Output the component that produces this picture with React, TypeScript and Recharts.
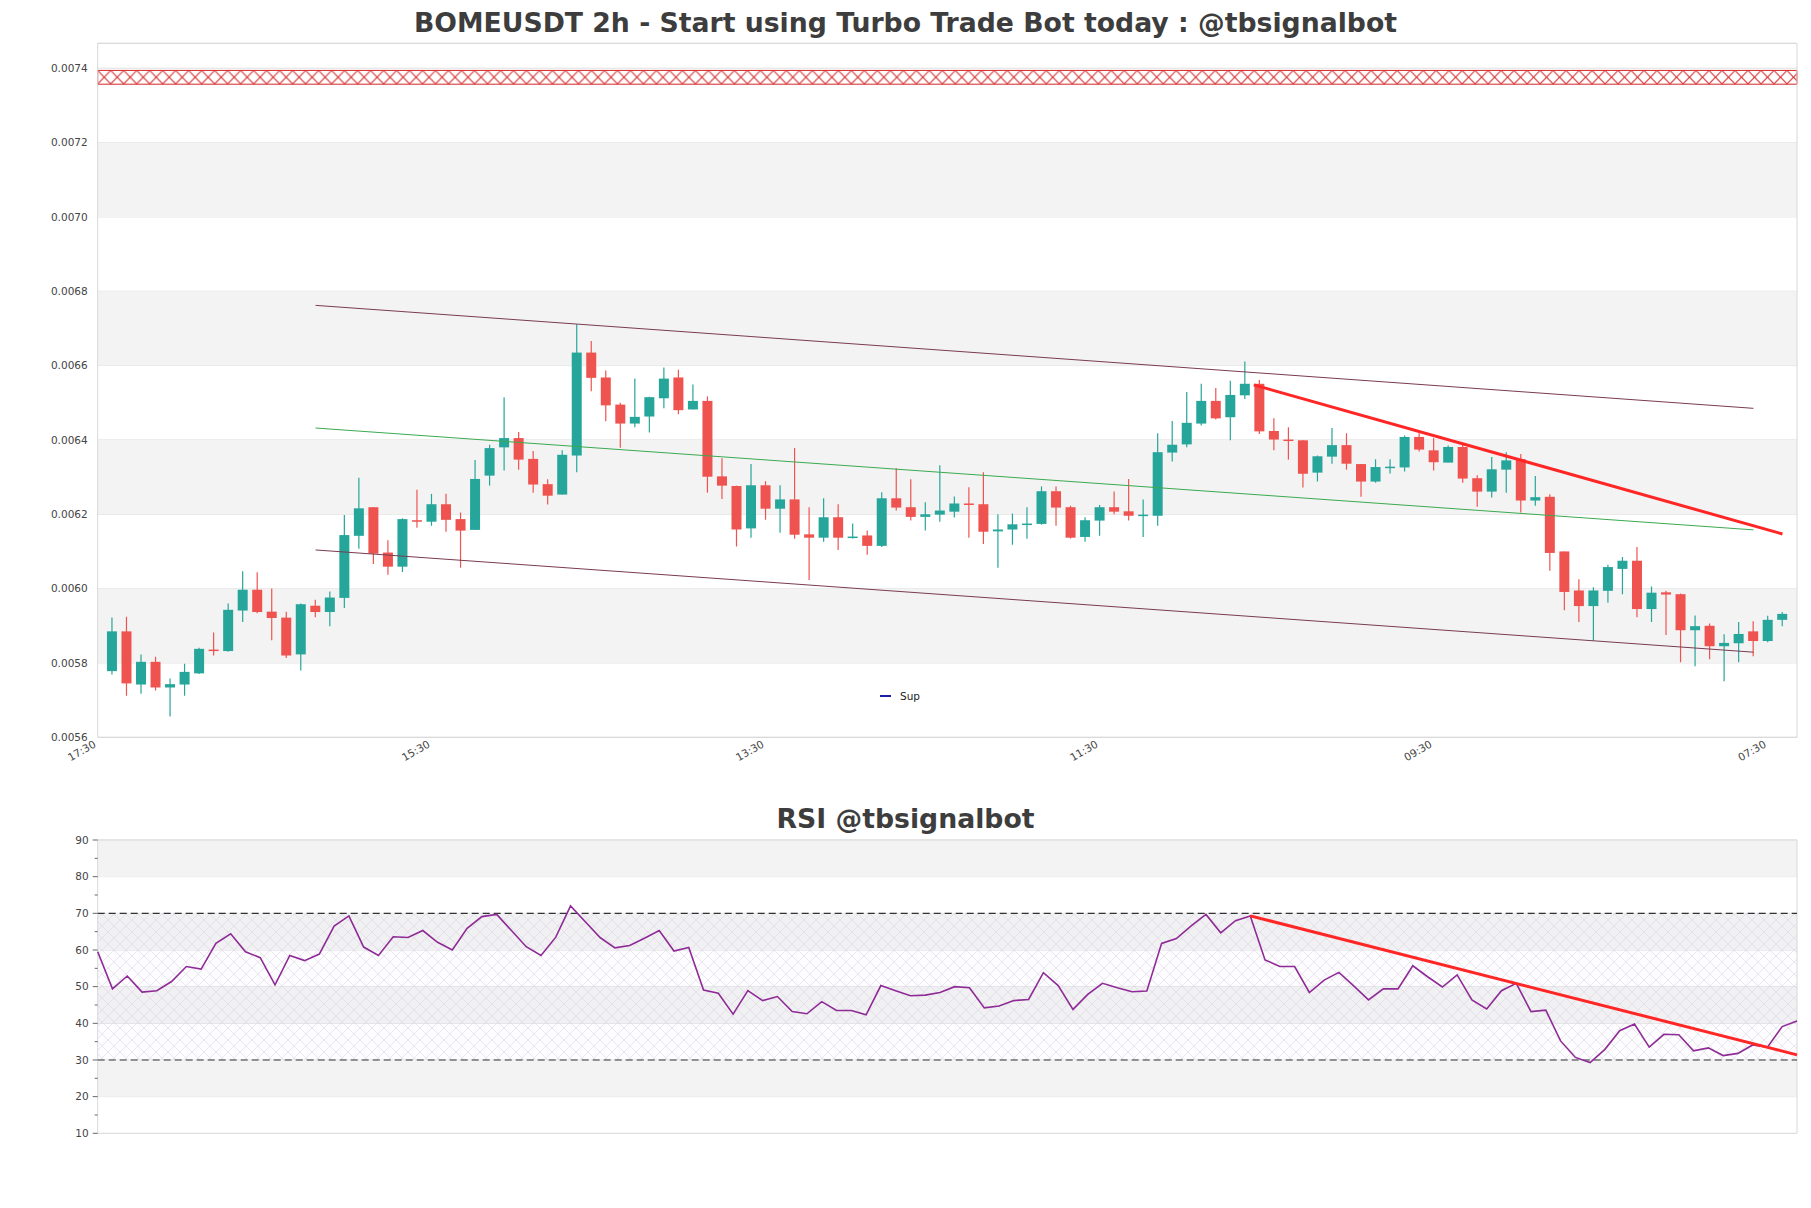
import React from 'react';
import {
  ComposedChart,
  Line,
  Bar,
  XAxis,
  YAxis,
  CartesianGrid,
  ReferenceArea,
  ReferenceLine,
  Legend,
} from 'recharts';

// ---------------- DATA ----------------
const opens = [
  0.005778, 0.005885, 0.005742, 0.005803, 0.005734, 0.005742, 0.005772, 0.005836, 0.005832, 0.005941,
  0.005997, 0.005938, 0.005922, 0.005823, 0.005954, 0.005937, 0.005975, 0.006142, 0.006219, 0.006097,
  0.006059, 0.006184, 0.00618, 0.006227, 0.006187, 0.006158, 0.006304, 0.00638, 0.006405, 0.006349,
  0.006281, 0.006253, 0.006358, 0.006635, 0.006568, 0.006495, 0.006444, 0.006463, 0.006512, 0.006568,
  0.006482, 0.006505, 0.006302, 0.006276, 0.006162, 0.006278, 0.006215, 0.00624, 0.006146, 0.006137,
  0.006192, 0.006137, 0.006143, 0.006115, 0.006243, 0.006219, 0.006193, 0.006199, 0.006207, 0.006229,
  0.006227, 0.006154, 0.006159, 0.006173, 0.006174, 0.006262, 0.006219, 0.006139, 0.006183, 0.006219,
  0.006208, 0.006196, 0.006196, 0.006366, 0.006388, 0.006444, 0.006505, 0.006461, 0.00652, 0.006551,
  0.006424, 0.006401, 0.006399, 0.006312, 0.006355, 0.006386, 0.006335, 0.006288, 0.006326, 0.006326,
  0.006408, 0.006372, 0.006339, 0.006381, 0.006297, 0.006261, 0.00632, 0.006348, 0.006237, 0.006247,
  0.0061, 0.005995, 0.005953, 0.005994, 0.006053, 0.006075, 0.005945, 0.00599, 0.005985, 0.005888,
  0.0059, 0.005845, 0.005853, 0.005885, 0.005859, 0.005916,
];
const highs = [
  0.005922, 0.005924, 0.005823, 0.005817, 0.005758, 0.005798, 0.005841, 0.005882, 0.00596, 0.006047,
  0.006044, 0.006, 0.005938, 0.00596, 0.00597, 0.005992, 0.006198, 0.006298, 0.006219, 0.00613,
  0.006189, 0.006266, 0.006255, 0.006255, 0.006205, 0.006346, 0.006387, 0.006515, 0.006421, 0.00637,
  0.006294, 0.006372, 0.006711, 0.006666, 0.006587, 0.0065, 0.006565, 0.006516, 0.006595, 0.006589,
  0.006549, 0.006517, 0.006351, 0.006277, 0.006335, 0.006289, 0.006278, 0.006378, 0.006219, 0.006243,
  0.006227, 0.006175, 0.006156, 0.006259, 0.006324, 0.006294, 0.006232, 0.006332, 0.006248, 0.006273,
  0.006313, 0.0062, 0.006202, 0.006219, 0.006275, 0.006275, 0.006223, 0.006192, 0.006225, 0.006261,
  0.006295, 0.00624, 0.006418, 0.006451, 0.006529, 0.006551, 0.00654, 0.006559, 0.006611, 0.006561,
  0.006458, 0.006434, 0.006399, 0.006358, 0.006432, 0.006418, 0.006335, 0.006348, 0.006348, 0.006412,
  0.006418, 0.006405, 0.006385, 0.00639, 0.006305, 0.006354, 0.006367, 0.006362, 0.006303, 0.006254,
  0.0061, 0.006025, 0.006004, 0.006064, 0.006085, 0.006112, 0.006006, 0.005994, 0.005987, 0.005928,
  0.005906, 0.005877, 0.00591, 0.005912, 0.005927, 0.005937,
];
const lows = [
  0.005769, 0.005712, 0.005717, 0.005726, 0.005656, 0.005712, 0.00577, 0.00582, 0.00583, 0.00591,
  0.005934, 0.005861, 0.005813, 0.00578, 0.005923, 0.005899, 0.005948, 0.006107, 0.006066, 0.006037,
  0.006045, 0.006164, 0.006169, 0.006153, 0.006056, 0.006158, 0.006277, 0.006318, 0.00632, 0.006258,
  0.006226, 0.006253, 0.006313, 0.006531, 0.00645, 0.006379, 0.006434, 0.00642, 0.006485, 0.006469,
  0.006482, 0.006258, 0.006241, 0.006113, 0.006137, 0.006185, 0.00615, 0.006134, 0.006023, 0.006126,
  0.006104, 0.006135, 0.006091, 0.006112, 0.00621, 0.006183, 0.006156, 0.00618, 0.006191, 0.006137,
  0.00612, 0.006056, 0.006118, 0.006134, 0.006172, 0.006169, 0.006135, 0.006126, 0.006142, 0.0062,
  0.006183, 0.006139, 0.006169, 0.006342, 0.00638, 0.006439, 0.006455, 0.006399, 0.00651, 0.006416,
  0.006372, 0.006347, 0.006272, 0.006288, 0.006336, 0.00632, 0.006247, 0.006285, 0.00631, 0.006315,
  0.006369, 0.006318, 0.006339, 0.006285, 0.00622, 0.006245, 0.006258, 0.006205, 0.006223, 0.006048,
  0.005942, 0.00591, 0.00586, 0.005962, 0.005985, 0.005923, 0.00591, 0.005875, 0.005802, 0.005791,
  0.00581, 0.005751, 0.005802, 0.005818, 0.005856, 0.005899,
];
const closes = [
  0.005885, 0.005745, 0.005803, 0.005734, 0.005743, 0.005776, 0.005838, 0.005832, 0.005943, 0.005997,
  0.005937, 0.005921, 0.00582, 0.005958, 0.005937, 0.005976, 0.006144, 0.006216, 0.006094, 0.006059,
  0.006187, 0.00618, 0.006227, 0.006185, 0.006156, 0.006295, 0.006378, 0.006405, 0.006347, 0.00628,
  0.00625, 0.00636, 0.006635, 0.006567, 0.006493, 0.006444, 0.006462, 0.006515, 0.006565, 0.00648,
  0.006505, 0.006301, 0.006277, 0.006159, 0.006278, 0.006215, 0.00624, 0.006145, 0.006137, 0.006192,
  0.006137, 0.00614, 0.006115, 0.006243, 0.006218, 0.006193, 0.0062, 0.00621, 0.006229, 0.006226,
  0.006153, 0.006159, 0.006173, 0.006175, 0.006262, 0.006218, 0.006137, 0.006184, 0.006219, 0.006207,
  0.006196, 0.006199, 0.006367, 0.006387, 0.006446, 0.006505, 0.006458, 0.006521, 0.006551, 0.006423,
  0.006401, 0.006399, 0.006309, 0.006356, 0.006386, 0.006336, 0.006288, 0.006327, 0.006328, 0.006408,
  0.006374, 0.00634, 0.006381, 0.006296, 0.006261, 0.006321, 0.006345, 0.006237, 0.006246, 0.006096,
  0.005991, 0.005953, 0.005995, 0.006058, 0.006075, 0.005945, 0.005989, 0.005984, 0.005888, 0.005899,
  0.005845, 0.005854, 0.005878, 0.005859, 0.005916, 0.005932,
];
const rsiValues = [
  59.5, 49.4, 52.9, 48.5, 48.9, 51.4, 55.5, 54.8, 61.8, 64.4,
  59.5, 57.9, 50.5, 58.5, 57.1, 58.9, 66.5, 69.3, 60.8, 58.5,
  63.6, 63.4, 65.3, 62.1, 60.0, 65.9, 69.1, 69.7, 65.3, 60.9,
  58.5, 63.5, 72.0, 67.7, 63.4, 60.6, 61.2, 63.2, 65.3, 59.7,
  60.7, 49.1, 48.2, 42.5, 48.9, 46.2, 47.3, 43.2, 42.6, 45.9,
  43.5, 43.5, 42.3, 50.3, 48.9, 47.5, 47.7, 48.4, 50.0, 49.7,
  44.2, 44.7, 46.2, 46.5, 53.8, 50.3, 43.8, 47.9, 50.9, 49.7,
  48.6, 48.8, 61.8, 63.1, 66.6, 69.7, 64.7, 68.0, 69.3, 57.3,
  55.5, 55.5, 48.4, 51.8, 53.9, 50.2, 46.4, 49.4, 49.4, 55.7,
  52.7, 49.9, 53.2, 46.4, 43.9, 48.9, 50.9, 43.2, 43.6, 35.2,
  30.7, 29.3, 32.9, 38.0, 39.8, 33.5, 37.0, 36.9, 32.5, 33.3,
  31.2, 31.8, 34.1, 33.5, 39.1, 40.6,
];

const xTickIndex = [-1, 22, 45, 68, 91, 114];
const xTickLabels = ['17:30', '15:30', '13:30', '11:30', '09:30', '07:30'];
const priceTicks = [0.0056, 0.0058, 0.006, 0.0062, 0.0064, 0.0066, 0.0068, 0.007, 0.0072, 0.0074];
const priceDomain = [0.0056, 0.007467];
const xDomain = [-1, 116];
const priceBands = [[0.0058, 0.006], [0.0062, 0.0064], [0.0066, 0.0068], [0.007, 0.0072]];
const resistanceZone = [0.007357, 0.007394];
const upperChannel = [[14, 0.006762], [113, 0.006485]];
const middleChannel = [[14, 0.006432], [113, 0.006158]];
const lowerChannel = [[14, 0.006104], [113, 0.005829]];
const priceTrend = [[78.6, 0.006548], [115, 0.006147]];

const rsiTicks = [10, 15, 20, 25, 30, 35, 40, 45, 50, 55, 60, 65, 70, 75, 80, 85, 90];
const rsiGridValues = [20, 30, 40, 50, 60, 70, 80, 90];
const rsiDomain = [10, 90];
const rsiBands = [[20, 30], [40, 50], [60, 70], [80, 90]];
const rsiZone = [30, 70];
const rsiTrend = [[78, 69.3], [115, 31.4]];
const legendItems = [{ name: 'Sup', color: '#1c1ca8' }];

// ---------------- STYLE ----------------
const FONT = '"DejaVu Sans", "Liberation Sans", sans-serif';
const GREEN = '#26a69a';
const RED = '#ef5350';
const BAND = '#f3f3f3';
const GRID = '#e0e0e0';
const BORDER = '#d8d8d8';
const TEXT = '#444';
const HATCH_W = 13;
const HATCH_H = 13.6;

const candles = opens.map((o, i) => ({
  i,
  open: o,
  high: highs[i],
  low: lows[i],
  close: closes[i],
  range: [lows[i], highs[i]],
}));
const rsiData = rsiValues.map((v, i) => ({ i, rsi: v }));

const Candle = (props: any) => {
  const { x, y, width, height, payload } = props;
  if (!payload || x == null || y == null) return null;
  const { open, close, high, low } = payload;
  const top = Math.min(y, y + height);
  const h = Math.abs(height);
  const span = high - low;
  const k = span > 0 ? h / span : 0;
  const bTop = top + (high - Math.max(open, close)) * k;
  const bBot = top + (high - Math.min(open, close)) * k;
  const cx = x + width / 2;
  const color = close >= open ? GREEN : RED;
  return (
    <g>
      <line x1={cx} x2={cx} y1={top} y2={top + h} stroke={color} strokeWidth={1.2} />
      <rect x={x} y={bTop} width={width} height={Math.max(1.5, bBot - bTop)} fill={color} />
    </g>
  );
};

const XTick = (props: any) => {
  const { x, y, payload } = props;
  const idx = xTickIndex.indexOf(payload.value);
  const label = idx >= 0 ? xTickLabels[idx] : '';
  const ax = x - 1;
  const ay = y + 1;
  return (
    <text
      x={ax}
      y={ay}
      transform={`rotate(-30 ${ax} ${ay})`}
      textAnchor="end"
      fontSize={10.5}
      fontFamily={FONT}
      fill={TEXT}
    >
      {label}
    </text>
  );
};

const PriceTick = (props: any) => {
  const { x, y, payload } = props;
  return (
    <text x={x} y={y} dy="0.35em" textAnchor="end" fontSize={10.5} fontFamily={FONT} fill={TEXT}>
      {Number(payload.value).toFixed(4)}
    </text>
  );
};

const RsiTick = (props: any) => {
  const { x, y, payload } = props;
  const v = payload.value;
  const major = v % 10 === 0;
  const axisX = x + 9;
  return (
    <g>
      <line x1={axisX - (major ? 5 : 3)} x2={axisX} y1={y} y2={y} stroke="#666" strokeWidth={1} />
      {major && (
        <text x={x} y={y} dy="0.35em" textAnchor="end" fontSize={10.5} fontFamily={FONT} fill={TEXT}>
          {v}
        </text>
      )}
    </g>
  );
};

const SupLegend = () => (
  <div style={{ display: 'flex', alignItems: 'center', fontFamily: FONT, fontSize: 10.5, color: '#222' }}>
    {legendItems.map((it) => (
      <span key={it.name} style={{ display: 'flex', alignItems: 'center' }}>
        <span style={{ display: 'inline-block', width: 11, height: 2.5, background: it.color, marginRight: 9 }} />
        {it.name}
      </span>
    ))}
  </div>
);

const titleStyle: React.CSSProperties = {
  position: 'absolute',
  left: 0,
  width: 1811,
  textAlign: 'center',
  fontFamily: FONT,
  fontWeight: 'bold',
  fontSize: 26.7,
  lineHeight: '31px',
  color: '#3d3d3d',
  whiteSpace: 'nowrap',
};

export default function App() {
  return (
    <div style={{ position: 'absolute', left: 0, top: 0, width: 1811, height: 1208, background: '#fff', fontFamily: FONT }}>
      <svg width={0} height={0} style={{ position: 'absolute' }}>
        <defs>
          <pattern
            id="redHatch"
            patternUnits="objectBoundingBox"
            patternContentUnits="userSpaceOnUse"
            x="0"
            y="0"
            width={HATCH_W / 1700}
            height="1"
          >
            <path
              d={`M0 0 L${HATCH_W} ${HATCH_H} M${HATCH_W} 0 L0 ${HATCH_H}`}
              stroke="#d62728"
              strokeWidth={1}
              fill="none"
            />
          </pattern>
          <pattern id="rsiHatch" patternUnits="userSpaceOnUse" width={12} height={12}>
            <path d="M0 0 L12 12 M12 0 L0 12" stroke="#d6d0de" strokeWidth={0.5} fill="none" />
          </pattern>
        </defs>
      </svg>

      <div style={{ ...titleStyle, top: 7 }}>BOMEUSDT 2h - Start using Turbo Trade Bot today : @tbsignalbot</div>

      <div style={{ position: 'absolute', left: 0, top: 0 }}>
        <ComposedChart
          width={1811}
          height={800}
          data={candles}
          margin={{ top: 43.3, right: 14, bottom: 22.7, left: 37.7 }}
        >
          {priceBands.map((b, k) => (
            <ReferenceArea key={`pb${k}`} y1={b[0]} y2={b[1]} x1={xDomain[0]} x2={xDomain[1]} fill={BAND} fillOpacity={1} stroke="none" ifOverflow="hidden" />
          ))}
          <CartesianGrid vertical={false} stroke={GRID} />
          <ReferenceArea
            y1={resistanceZone[0]}
            y2={resistanceZone[1]}
            x1={xDomain[0]}
            x2={xDomain[1]}
            fill="url(#redHatch)"
            fillOpacity={1}
            stroke="#d62728"
            strokeWidth={1}
          />
          <ReferenceArea
            y1={priceDomain[0]}
            y2={priceDomain[1]}
            x1={xDomain[0]}
            x2={xDomain[1]}
            fill="none"
            stroke={BORDER}
            strokeWidth={1}
          />
          <XAxis
            dataKey="i"
            type="number"
            domain={xDomain}
            ticks={xTickIndex}
            interval={0}
            tick={<XTick />}
            tickLine={false}
            axisLine={false}
            tickSize={4}
            tickMargin={4}
            height={40}
            allowDataOverflow
          />
          <YAxis
            type="number"
            domain={priceDomain}
            ticks={priceTicks}
            interval={0}
            tick={<PriceTick />}
            tickLine={false}
            axisLine={false}
            tickSize={6}
            tickMargin={4}
            width={60}
            allowDataOverflow
          />
          <ReferenceLine segment={[{ x: upperChannel[0][0], y: upperChannel[0][1] }, { x: upperChannel[1][0], y: upperChannel[1][1] }]} stroke="#7a3b52" strokeWidth={1} />
          <ReferenceLine segment={[{ x: middleChannel[0][0], y: middleChannel[0][1] }, { x: middleChannel[1][0], y: middleChannel[1][1] }]} stroke="#3aaa4f" strokeWidth={1} />
          <ReferenceLine segment={[{ x: lowerChannel[0][0], y: lowerChannel[0][1] }, { x: lowerChannel[1][0], y: lowerChannel[1][1] }]} stroke="#7a3b52" strokeWidth={1} />
          <Bar dataKey="range" barSize={10} shape={<Candle />} isAnimationActive={false} />
          <ReferenceLine segment={[{ x: priceTrend[0][0], y: priceTrend[0][1] }, { x: priceTrend[1][0], y: priceTrend[1][1] }]} stroke="#ff2626" strokeWidth={3} />
          <Legend
            content={<SupLegend />}
            layout="horizontal"
            verticalAlign="middle"
            align="center"
            wrapperStyle={{ left: 880, top: 690, width: 80, height: 16 }}
          />
        </ComposedChart>
      </div>

      <div style={{ ...titleStyle, top: 803 }}>RSI @tbsignalbot</div>

      <div style={{ position: 'absolute', left: 0, top: 800 }}>
        <ComposedChart
          width={1811}
          height={360}
          data={rsiData}
          margin={{ top: 40, right: 14, bottom: 26.7, left: 37.7 }}
        >
          {rsiBands.map((b, k) => (
            <ReferenceArea key={`rb${k}`} y1={b[0]} y2={b[1]} x1={0} x2={115} fill={BAND} fillOpacity={1} stroke="none" />
          ))}
          <CartesianGrid vertical={false} stroke={GRID} horizontalValues={rsiGridValues} />
          <ReferenceArea y1={rsiZone[0]} y2={rsiZone[1]} x1={0} x2={115} fill="#c9a6d6" fillOpacity={0.035} stroke="none" />
          <ReferenceArea y1={rsiZone[0]} y2={rsiZone[1]} x1={0} x2={115} fill="url(#rsiHatch)" fillOpacity={1} stroke="none" />
          <ReferenceArea y1={rsiDomain[0]} y2={rsiDomain[1]} x1={0} x2={115} fill="none" stroke={BORDER} strokeWidth={1} />
          <XAxis dataKey="i" type="number" domain={[0, 115]} hide />
          <YAxis
            type="number"
            domain={rsiDomain}
            ticks={rsiTicks}
            interval={0}
            tick={<RsiTick />}
            tickLine={false}
            axisLine={false}
            tickSize={5}
            tickMargin={4}
            width={60}
            allowDataOverflow
          />
          <ReferenceLine y={rsiZone[1]} stroke="#333" strokeWidth={1.2} strokeDasharray="7 4" />
          <ReferenceLine y={rsiZone[0]} stroke="#333" strokeWidth={1.2} strokeDasharray="7 4" />
          <Line dataKey="rsi" type="linear" dot={false} stroke="#8e2b96" strokeWidth={1.6} isAnimationActive={false} />
          <ReferenceLine segment={[{ x: rsiTrend[0][0], y: rsiTrend[0][1] }, { x: rsiTrend[1][0], y: rsiTrend[1][1] }]} stroke="#ff2626" strokeWidth={3} />
        </ComposedChart>
      </div>
    </div>
  );
}
